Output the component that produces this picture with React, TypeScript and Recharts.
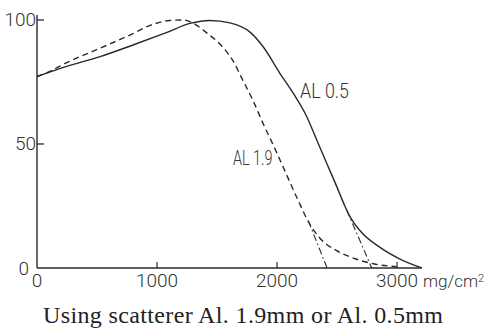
import { LineChart, Line, XAxis, YAxis } from "recharts"

// AL 0.5 (solid) and AL 1.9 (dashed) curves
const al05X = [0, 248, 525, 800, 1083, 1275, 1442, 1608, 1775, 1886, 2025, 2136, 2248, 2331, 2414, 2498, 2567, 2608, 2692, 2858, 3025, 3206]
const al05Y = [77.2, 81.3, 85.2, 89.9, 95, 98.6, 99.8, 98.8, 95.1, 89.1, 78.4, 70.4, 61, 51.6, 42.2, 32.8, 24.8, 20.7, 15, 8.3, 3.6, 0]

const al19X = [0, 108, 248, 525, 800, 942, 1108, 1217, 1300, 1414, 1525, 1633, 1717, 1800, 1886, 1969, 2053, 2164, 2275, 2358, 2497, 2636, 2803, 2998]
const al19Y = [77.2, 79.3, 82.8, 88.6, 94.5, 97.8, 99.8, 100, 98.7, 94.8, 90.2, 83.5, 75.5, 67.5, 58, 49.5, 40.5, 28.5, 17.5, 12, 7, 4, 1.7, 0.5]

// extrapolated ranges (dash-dot tangents)
const tangent19X = [2261, 2417]
const tangent19Y = [19, 0]
const tangent05X = [2581, 2789]
const tangent05Y = [23.3, 0]

const xTicks = [0, 1000, 2000, 3000]
const yTicks = [0, 50, 100]

const pairs = (xs: number[], ys: number[]) => xs.map((x, i) => ({ x, y: ys[i] }))

const ink = "#2a2a2a"
const tickFont = "Roboto, 'DejaVu Sans', sans-serif"

const YTick = (props: any) => {
  const { x, y, payload } = props
  const zero = payload.value === 0
  return (
    <g>
      {!zero && <line x1={x} y1={y} x2={x + 7} y2={y} stroke={ink} strokeWidth={1.3} />}
      <text
        x={zero ? x - 8 : x - 1}
        y={y}
        textAnchor="end"
        dominantBaseline="central"
        fontFamily={tickFont}
        fontWeight={300}
        fontSize={19}
        fill="#333"
      >
        {payload.value}
      </text>
    </g>
  )
}

const XTick = (props: any) => {
  const { x, y, payload } = props
  return (
    <g>
      {payload.value !== 0 && <line x1={x} y1={y} x2={x} y2={y - 6} stroke={ink} strokeWidth={1.2} />}
      <text x={x} y={y + 19} textAnchor="middle" fontFamily={tickFont} fontWeight={300} fontSize={19} fill="#333">
        {payload.value}
      </text>
    </g>
  )
}

export default function App() {
  return (
    <div style={{ position: "absolute", left: 0, top: 0, width: 488, height: 329, background: "#fff" }}>
      <LineChart width={488} height={329} margin={{ top: 15, right: 66, bottom: 60, left: 36 }}>
        <XAxis
          dataKey="x"
          type="number"
          domain={[0, 3208]}
          ticks={xTicks}
          height={1}
          tickSize={0}
          tickMargin={0}
          tick={<XTick />}
          axisLine={{ stroke: ink, strokeWidth: 1.4 }}
          allowDataOverflow
        />
        <YAxis
          type="number"
          domain={[0, 102]}
          ticks={yTicks}
          width={1}
          tickSize={0}
          tickMargin={0}
          tick={<YTick />}
          axisLine={{ stroke: ink, strokeWidth: 1.4 }}
          allowDataOverflow
        />
        <Line data={pairs(al05X, al05Y)} dataKey="y" type="monotone" stroke={ink} strokeWidth={1.4} dot={false} isAnimationActive={false} />
        <Line data={pairs(al19X, al19Y)} dataKey="y" type="monotone" stroke={ink} strokeWidth={1.4} strokeDasharray="6 4" dot={false} isAnimationActive={false} />
        <Line data={pairs(tangent19X, tangent19Y)} dataKey="y" type="linear" stroke={ink} strokeWidth={1.1} strokeDasharray="7 3 1.5 3" dot={false} isAnimationActive={false} />
        <Line data={pairs(tangent05X, tangent05Y)} dataKey="y" type="linear" stroke={ink} strokeWidth={1.1} strokeDasharray="7 3 1.5 3" dot={false} isAnimationActive={false} />
      </LineChart>
      <svg width={488} height={329} style={{ position: "absolute", left: 0, top: 0, pointerEvents: "none" }}>
        <text transform="translate(300,98) scale(0.85,1)" fontFamily={tickFont} fontWeight={300} fontSize={21} fill="#333">
          AL 0.5
        </text>
        <text transform="translate(233,165) scale(0.72,1)" fontFamily={tickFont} fontWeight={300} fontSize={20} fill="#333">
          AL 1.9
        </text>
        <text x={423} y={287} fontFamily={tickFont} fontWeight={300} fontSize={17} fill="#333">
          mg/cm<tspan fontSize={11} dy={-5}>2</tspan>
        </text>
        <text
          x={43}
          y={323}
          textLength={400}
          lengthAdjust="spacing"
          fontFamily="'Liberation Serif', 'DejaVu Serif', serif"
          fontSize={24}
          fill="#222"
        >
          Using scatterer Al. 1.9mm or Al. 0.5mm
        </text>
      </svg>
    </div>
  )
}
